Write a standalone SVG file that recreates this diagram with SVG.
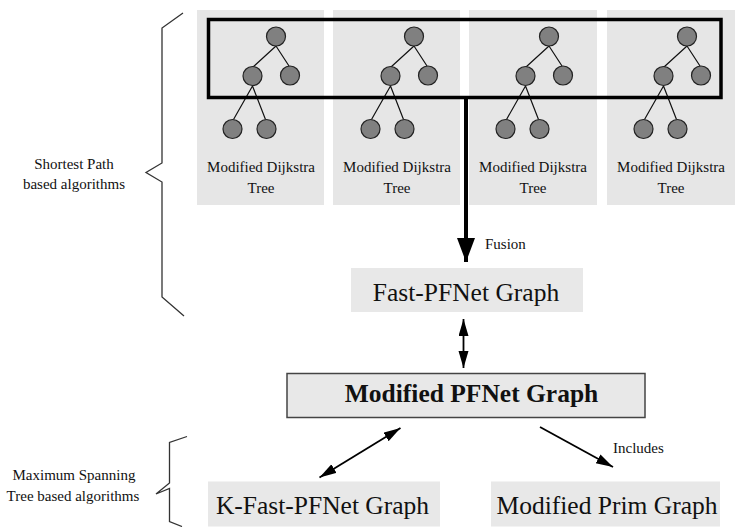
<svg xmlns="http://www.w3.org/2000/svg" xmlns:xlink="http://www.w3.org/1999/xlink" width="736" height="527" viewBox="0 0 736 527">
  <style>
    .panel { fill: #e6e6e6; stroke: none; }
    .box { fill: #e8e8e8; stroke: none; }
    .box-framed { fill: #e8e8e8; stroke: #444; stroke-width: 1.5; }
    .tnode { fill: #808080; stroke: #222; stroke-width: 1.2; }
    .tedge { stroke: #111; stroke-width: 1.2; fill: none; }
    text { font-family: 'Liberation Serif', 'Times New Roman', serif; fill: #111; }
    .small { font-size: 15px; }
    .big { font-size: 25.5px; }
    .bold { font-weight: bold; }
    .brace { fill: none; stroke: #333; stroke-width: 1.3; }
    .conn { stroke: #000; stroke-width: 1.8; fill: none; }
  </style>
  <defs>
    <marker id="head" markerUnits="userSpaceOnUse" markerWidth="18" markerHeight="12" refX="17" refY="5" orient="auto-start-reverse">
      <path d="M0,0 L17,5 L0,10 Z" fill="#000"/>
    </marker>
    <marker id="head-big" markerUnits="userSpaceOnUse" markerWidth="26" markerHeight="20" refX="24" refY="9" orient="auto">
      <path d="M0,0 L24,9 L0,18 Z" fill="#000"/>
    </marker>
    <!-- five-node tree drawn in each panel -->
    <g id="tree">
      <path class="tedge" d="M276,46 L253,67 M276,46 L289,66 M252.5,86 L233.5,119.5 M252.5,86 L265.5,119.5"/>
      <circle class="tnode" cx="276" cy="36.5" r="9.5"/>
      <circle class="tnode" cx="252.5" cy="76" r="9.5"/>
      <circle class="tnode" cx="290" cy="75.5" r="9.5"/>
      <circle class="tnode" cx="232.5" cy="129" r="9.5"/>
      <circle class="tnode" cx="266.5" cy="129" r="9.5"/>
    </g>
  </defs>

  <rect width="736" height="527" fill="#fff"/>

  <!-- Dijkstra tree panels -->
  <g id="tree1">
    <rect class="panel" x="197" y="10" width="127" height="195"/>
    <use xlink:href="#tree"/>
    <text class="small" x="261" y="172" text-anchor="middle">Modified Dijkstra</text>
    <text class="small" x="261" y="193" text-anchor="middle">Tree</text>
  </g>
  <g id="tree2">
    <rect class="panel" x="333" y="10" width="127" height="195"/>
    <use xlink:href="#tree" transform="translate(138,0)"/>
    <text class="small" x="397" y="172" text-anchor="middle">Modified Dijkstra</text>
    <text class="small" x="397" y="193" text-anchor="middle">Tree</text>
  </g>
  <g id="tree3">
    <rect class="panel" x="469" y="10" width="128" height="195"/>
    <use xlink:href="#tree" transform="translate(273,0)"/>
    <text class="small" x="533" y="172" text-anchor="middle">Modified Dijkstra</text>
    <text class="small" x="533" y="193" text-anchor="middle">Tree</text>
  </g>
  <g id="tree4">
    <rect class="panel" x="607" y="10" width="128" height="195"/>
    <use xlink:href="#tree" transform="translate(411,0)"/>
    <text class="small" x="671" y="172" text-anchor="middle">Modified Dijkstra</text>
    <text class="small" x="671" y="193" text-anchor="middle">Tree</text>
  </g>

  <!-- fusion frame around the upper tree levels -->
  <g id="fusion-frame">
    <rect x="208.5" y="19.5" width="512.5" height="78" fill="none" stroke="#000" stroke-width="3.5"/>
  </g>

  <!-- group braces and their labels -->
  <g id="shortest-path-group">
    <path class="brace" d="M183,13 L162,28 L162,163 L146,172.5 L162,182 L162,297 L184,316"/>
    <text class="small" x="74" y="169" text-anchor="middle">Shortest Path</text>
    <text class="small" x="74" y="189" text-anchor="middle">based algorithms</text>
  </g>
  <g id="spanning-tree-group">
    <path class="brace" d="M187,436.5 L169.5,442.5 L169.5,483 L156,494 L169.5,488.5 L169.5,521.5 L182,526.5"/>
    <text class="small" x="74" y="480" text-anchor="middle">Maximum Spanning</text>
    <text class="small" x="73" y="501" text-anchor="middle">Tree based algorithms</text>
  </g>

  <!-- graph nodes -->
  <g id="fast-pfnet">
    <rect class="box" x="351" y="268" width="232" height="44"/>
    <text class="big" x="466" y="301" text-anchor="middle">Fast-PFNet Graph</text>
  </g>
  <g id="modified-pfnet">
    <rect class="box-framed" x="287" y="373.5" width="358" height="44"/>
    <text class="big bold" x="471.5" y="402" text-anchor="middle">Modified PFNet Graph</text>
  </g>
  <g id="k-fast-pfnet">
    <rect class="box" x="208" y="481.5" width="232" height="45"/>
    <text class="big" x="322.5" y="514" text-anchor="middle">K-Fast-PFNet Graph</text>
  </g>
  <g id="modified-prim">
    <rect class="box" x="491" y="481.5" width="229" height="45"/>
    <text class="big" x="607" y="514" text-anchor="middle">Modified Prim Graph</text>
  </g>

  <!-- connectors -->
  <g id="connectors">
    <line x1="466" y1="98" x2="466" y2="262" stroke="#000" stroke-width="4" marker-end="url(#head-big)"/>
    <text class="small" x="485" y="249">Fusion</text>
    <line class="conn" x1="463.5" y1="319" x2="463.5" y2="368" marker-start="url(#head)" marker-end="url(#head)"/>
    <line class="conn" x1="319.5" y1="477.5" x2="400.5" y2="428" marker-start="url(#head)" marker-end="url(#head)"/>
    <line class="conn" x1="540" y1="427" x2="613" y2="467" marker-end="url(#head)"/>
    <text class="small" x="613" y="453">Includes</text>
  </g>
</svg>
